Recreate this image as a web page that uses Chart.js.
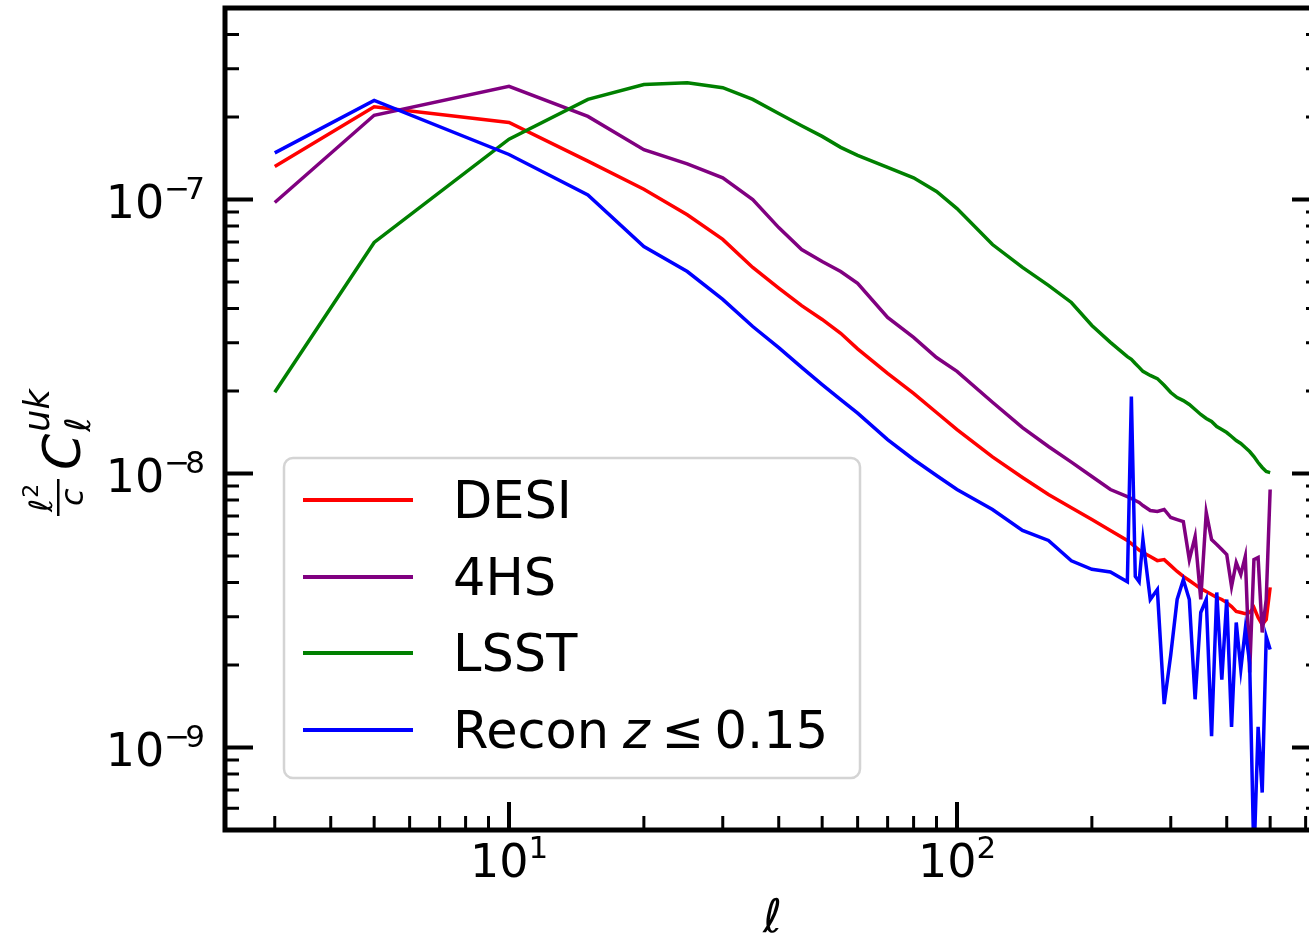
<!DOCTYPE html>
<html>
<head>
<meta charset="utf-8">
<script src="https://cdn.jsdelivr.net/npm/chart.js@4.4.1/dist/chart.umd.min.js"></script>
<style>
html, body { margin: 0; padding: 0; background: #fff; overflow: hidden; }
#wrap { width: 1309px; height: 940px; overflow: hidden; }
canvas { display: block; }
</style>
</head>
<body>
<div id="wrap"><canvas id="myChart" width="1330" height="940"></canvas></div>
<script>
// multipole l
const ell = [3, 5, 10, 15, 20, 25, 30, 35, 40, 45, 50, 55, 60, 70, 80, 90, 100,
    120, 140, 160, 180, 200, 220, 240, 245, 250, 255, 260, 270, 280, 290, 300,
    310, 320, 330, 340, 350, 360, 370, 380, 390, 400, 410, 420, 430, 440, 450,
    460, 470, 480, 490, 500];

const desi = [1.32e-7, 2.18e-7, 1.91e-7, 1.38e-7, 1.09e-7, 8.8e-8, 7.15e-8, 5.65e-8, 4.75e-8, 4.1e-8,
    3.65e-8, 3.25e-8, 2.85e-8, 2.32e-8, 1.96e-8, 1.67e-8, 1.447e-8, 1.15e-8, 9.67e-9, 8.38e-9,
    7.5e-9, 6.8e-9, 6.2e-9, 5.7e-9, 5.55e-9, 5.4e-9, 5.25e-9, 5.15e-9, 4.98e-9, 4.81e-9,
    4.85e-9, 4.61e-9, 4.39e-9, 4.21e-9, 4.07e-9, 3.93e-9, 3.8e-9, 3.71e-9, 3.62e-9, 3.53e-9,
    3.47e-9, 3.38e-9, 3.27e-9, 3.14e-9, 3.11e-9, 3.08e-9, 3.11e-9, 3.24e-9, 2.98e-9, 2.81e-9,
    2.93e-9, 3.84e-9];

const hs4 = [9.75e-8, 2.03e-7, 2.59e-7, 2.01e-7, 1.52e-7, 1.35e-7, 1.2e-7, 1.0e-7, 7.9e-8, 6.57e-8,
    5.94e-8, 5.46e-8, 4.94e-8, 3.71e-8, 3.14e-8, 2.65e-8, 2.36e-8, 1.82e-8, 1.47e-8, 1.255e-8,
    1.1e-8, 9.75e-9, 8.74e-9, 8.24e-9, 8.11e-9, 7.97e-9, 7.84e-9, 7.64e-9, 7.33e-9, 7.27e-9,
    7.39e-9, 6.91e-9, 6.79e-9, 6.68e-9, 4.85e-9, 5.89e-9, 3.47e-9, 7.21e-9, 5.74e-9, 5.51e-9,
    5.28e-9, 5.06e-9, 3.87e-9, 4.73e-9, 4.28e-9, 4.98e-9, 1.88e-9, 4.85e-9, 4.94e-9, 2.63e-9,
    3.47e-9, 8.74e-9];

const lsst = [1.98e-8, 6.97e-8, 1.66e-7, 2.32e-7, 2.63e-7, 2.67e-7, 2.56e-7, 2.32e-7, 2.06e-7, 1.86e-7,
    1.7e-7, 1.55e-7, 1.45e-7, 1.31e-7, 1.2e-7, 1.07e-7, 9.27e-8, 6.85e-8, 5.65e-8, 4.86e-8,
    4.21e-8, 3.47e-8, 3.01e-8, 2.67e-8, 2.61e-8, 2.52e-8, 2.44e-8, 2.36e-8, 2.28e-8, 2.22e-8,
    2.1e-8, 1.975e-8, 1.894e-8, 1.846e-8, 1.786e-8, 1.713e-8, 1.642e-8, 1.588e-8, 1.548e-8, 1.484e-8,
    1.447e-8, 1.411e-8, 1.365e-8, 1.319e-8, 1.287e-8, 1.244e-8, 1.203e-8, 1.153e-8, 1.097e-8, 1.052e-8,
    1.017e-8, 1.008e-8];

const recon = [1.48e-7, 2.3e-7, 1.46e-7, 1.04e-7, 6.74e-8, 5.46e-8, 4.32e-8, 3.44e-8, 2.88e-8, 2.44e-8,
    2.11e-8, 1.86e-8, 1.66e-8, 1.33e-8, 1.125e-8, 9.83e-9, 8.74e-9, 7.39e-9, 6.2e-9, 5.7e-9,
    4.8e-9, 4.47e-9, 4.37e-9, 4.03e-9, 1.91e-8, 4.21e-9, 4.03e-9, 5.74e-9, 3.47e-9, 3.77e-9,
    1.44e-9, 2.18e-9, 3.47e-9, 4.1e-9, 3.47e-9, 1.5e-9, 3.11e-9, 3.47e-9, 1.1e-9, 3.68e-9,
    1.77e-9, 3.47e-9, 1.19e-9, 2.86e-9, 1.93e-9, 2.7e-9, 2.04e-9, 3.9e-10, 1.19e-9, 6.85e-10,
    2.54e-9, 2.28e-9];

const seriesLabels = ['DESI', '4HS', 'LSST', 'Recon'];
const seriesColors = ['#ff0000', '#800080', '#008000', '#0000ff'];

// tick labels: exponents of the major ticks
const xTickExp = [1, 2];
const yTickExp = [-9, -8, -7];

const FONT = '"DejaVu Sans"';

function pts(vals) {
    return ell.map((l, i) => ({ x: l, y: vals[i] }));
}

// "10" with a superscript exponent, like matplotlib's mathtext
function drawPow(ctx, exp, x, baseY, align) {
    ctx.font = '46px ' + FONT;
    const w10 = ctx.measureText('10').width;
    ctx.font = '31px ' + FONT;
    const digit = String(Math.abs(exp));
    const wMinus = exp < 0 ? ctx.measureText('\u2212').width - 5 : 0;
    const wSup = wMinus + ctx.measureText(digit).width;
    const total = w10 + wSup;
    const left = align === 'center' ? x - total / 2 : x - total;
    ctx.textAlign = 'left';
    ctx.textBaseline = 'alphabetic';
    ctx.font = '46px ' + FONT;
    ctx.fillText('10', left, baseY);
    ctx.font = '31px ' + FONT;
    if (exp < 0) ctx.fillText('\u2212', left + w10, baseY - 19);
    ctx.fillText(digit, left + w10 + wMinus, baseY - 19);
}

const axisPlugin = {
    id: 'axisPlugin',
    afterDraw(chart) {
        const ctx = chart.ctx;
        const a = chart.chartArea;
        const xs = chart.scales.x, ys = chart.scales.y;
        ctx.save();
        ctx.strokeStyle = '#000';
        ctx.fillStyle = '#000';
        ctx.lineCap = 'butt';

        // minor ticks (2..9 x 10^n), inward
        ctx.lineWidth = 3;
        for (let d = 0; d <= 3; d++) {
            for (let m = 2; m <= 9; m++) {
                const v = m * Math.pow(10, d);
                if (v < xs.min || v > xs.max) continue;
                const px = xs.getPixelForValue(v);
                ctx.beginPath();
                ctx.moveTo(px, a.bottom);
                ctx.lineTo(px, a.bottom - 14);
                ctx.stroke();
            }
        }
        for (let d = -10; d <= -7; d++) {
            for (let m = 2; m <= 9; m++) {
                const v = m * Math.pow(10, d);
                if (v < ys.min || v > ys.max) continue;
                const py = ys.getPixelForValue(v);
                ctx.beginPath();
                ctx.moveTo(a.left, py);
                ctx.lineTo(a.left + 14, py);
                ctx.moveTo(a.right, py);
                ctx.lineTo(a.right - 14, py);
                ctx.stroke();
            }
        }

        // major ticks + labels
        ctx.lineWidth = 4;
        xTickExp.forEach(e => {
            const px = xs.getPixelForValue(Math.pow(10, e));
            ctx.beginPath();
            ctx.moveTo(px, a.bottom);
            ctx.lineTo(px, a.bottom - 28);
            ctx.stroke();
            drawPow(ctx, e, px, a.bottom + 47, 'center');
        });
        yTickExp.forEach(e => {
            const py = ys.getPixelForValue(Math.pow(10, e));
            ctx.beginPath();
            ctx.moveTo(a.left, py);
            ctx.lineTo(a.left + 28, py);
            ctx.moveTo(a.right, py);
            ctx.lineTo(a.right - 28, py);
            ctx.stroke();
            drawPow(ctx, e, a.left - 20, py + 18, 'right');
        });

        // spines
        ctx.lineWidth = 5;
        ctx.strokeRect(a.left, a.top, a.right - a.left, a.bottom - a.top);

        // x title
        ctx.font = 'italic 46px ' + FONT;
        ctx.textAlign = 'center';
        ctx.fillText('\u2113', (a.left + a.right) / 2, 932);

        // y title: l^2/c C_l^uk, rotated
        ctx.save();
        ctx.rotate(-Math.PI / 2);
        ctx.textAlign = 'left';
        const u0 = -516;
        ctx.font = 'italic 32px ' + FONT;
        const wl = ctx.measureText('\u2113').width;
        ctx.fillText('\u2113', u0 + 4, 52);
        ctx.font = '22px ' + FONT;
        ctx.fillText('2', u0 + 4 + wl + 1, 38);
        ctx.fillRect(u0, 57, 37, 2.5);
        ctx.font = 'italic 32px ' + FONT;
        ctx.fillText('c', u0 + 10, 83);
        ctx.font = 'italic 52px ' + FONT;
        ctx.fillText('C', u0 + 46, 80);
        const wC = ctx.measureText('C').width;
        ctx.font = 'italic 35px ' + FONT;
        ctx.fillText('uk', u0 + 46 + wC + 2, 49);
        ctx.fillText('\u2113', u0 + 46 + wC + 2, 90);
        ctx.restore();

        // legend
        const lx = 284, ly = 458, lw = 576, lh = 320;
        ctx.beginPath();
        ctx.roundRect(lx, ly, lw, lh, 9);
        ctx.fillStyle = 'rgba(255,255,255,0.85)';
        ctx.fill();
        ctx.lineWidth = 2.5;
        ctx.strokeStyle = '#d4d4d4';
        ctx.stroke();
        const rows = [500, 577, 653, 730];
        chart.data.datasets.forEach((ds, i) => {
            const ry = rows[i];
            ctx.strokeStyle = ds.borderColor;
            ctx.lineWidth = 4;
            ctx.beginPath();
            ctx.moveTo(303, ry);
            ctx.lineTo(413, ry);
            ctx.stroke();
            ctx.fillStyle = '#000';
            ctx.textAlign = 'left';
            ctx.textBaseline = 'alphabetic';
            ctx.font = '51px ' + FONT;
            let tx = 453;
            ctx.fillText(ds.label, tx, ry + 18);
            if (i === 3) {
                tx += ctx.measureText(ds.label).width + 14;
                ctx.font = 'italic 51px ' + FONT;
                ctx.fillText('z', tx, ry + 18);
                tx += ctx.measureText('z').width + 12;
                ctx.font = '51px ' + FONT;
                ctx.fillText('\u2264', tx, ry + 18);
                tx += ctx.measureText('\u2264').width + 10;
                ctx.fillText('0.15', tx, ry + 18);
            }
        });
        ctx.restore();
    }
};

const chart = new Chart(document.getElementById('myChart'), {
    type: 'line',
    data: {
        datasets: [
            { label: seriesLabels[0], data: pts(desi), borderColor: seriesColors[0], order: 4 },
            { label: seriesLabels[1], data: pts(hs4), borderColor: seriesColors[1], order: 3 },
            { label: seriesLabels[2], data: pts(lsst), borderColor: seriesColors[2], order: 2 },
            { label: seriesLabels[3], data: pts(recon), borderColor: seriesColors[3], order: 1 }
        ]
    },
    options: {
        responsive: false,
        animation: false,
        layout: { padding: { left: 225, right: 10, top: 8, bottom: 110 } },
        elements: {
            point: { radius: 0 },
            line: { borderWidth: 3.5, tension: 0, fill: false }
        },
        scales: {
            x: { type: 'logarithmic', min: 2.323, max: 646, display: false },
            y: { type: 'logarithmic', min: 5e-10, max: 5e-7, display: false }
        },
        plugins: {
            legend: { display: false },
            tooltip: { enabled: false }
        }
    },
    plugins: [axisPlugin]
});
</script>
</body>
</html>
